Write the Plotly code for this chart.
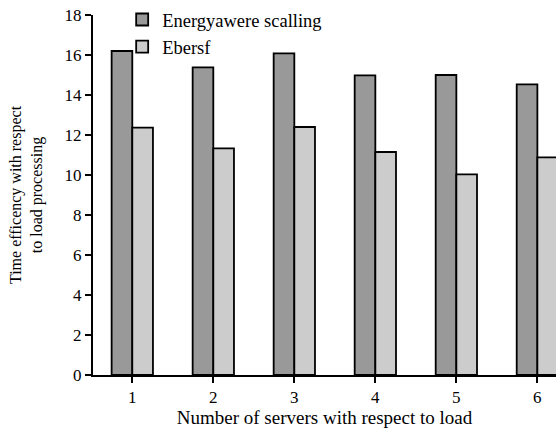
import plotly.graph_objects as go

servers = [1, 2, 3, 4, 5, 6]
energy_aware = [16.2, 15.38, 16.08, 14.98, 15.0, 14.53]
ebersf = [12.37, 11.33, 12.4, 11.15, 10.03, 10.88]
y_ticks = [0, 2, 4, 6, 8, 10, 12, 14, 16, 18]

FONT = "Liberation Serif"
TICK = dict(family=FONT, size=17, color="black")
LEG = dict(family=FONT, size=18.5, color="black")
XT = dict(family=FONT, size=19, color="black")
YT = dict(family=FONT, size=16, color="black")

fig = go.Figure()
fig.add_trace(go.Bar(x=servers, y=energy_aware, name="Energyawere scalling",
                     marker=dict(color="#999999", line=dict(color="black", width=1.8))))
fig.add_trace(go.Bar(x=servers, y=ebersf, name="Ebersf",
                     marker=dict(color="#cccccc", line=dict(color="black", width=1.8))))

fig.update_layout(
    width=556, height=435,
    margin=dict(l=93, r=0, t=15, b=60, autoexpand=False),
    plot_bgcolor="white", paper_bgcolor="white",
    barmode="group", bargap=0.49, bargroupgap=0,
    font=TICK,
    showlegend=True,
    legend=dict(x=0.063, y=1.039, xanchor="left", yanchor="top",
                bgcolor="rgba(0,0,0,0)", font=LEG, tracegroupgap=0),
    xaxis=dict(range=[0.515, 6.23], tickvals=servers, ticks="outside", ticklen=6,
               tickwidth=1.5, tickcolor="black", showline=True, linecolor="black",
               linewidth=2, showgrid=False, zeroline=False, automargin=False,
               tickfont=TICK, ticklabeloverflow="allow",
               title=dict(text="Number of servers with respect to load", standoff=4, font=XT)),
    yaxis=dict(range=[0, 18], tickvals=y_ticks, ticks="outside", ticklen=6,
               tickwidth=1.5, tickcolor="black", showline=True, linecolor="black",
               linewidth=2, showgrid=False, zeroline=False, automargin=False,
               tickfont=TICK, ticklabeloverflow="allow",
               title=dict(text="Time efficency with respect<br>to load processing", standoff=18, font=YT)),
)

# remove the browser's default 8px body margin so the figure sits at the page corner
fig.write_html("out.html", config={"displayModeBar": False},
               post_script="document.body.style.margin='0';document.body.style.overflow='hidden';")
